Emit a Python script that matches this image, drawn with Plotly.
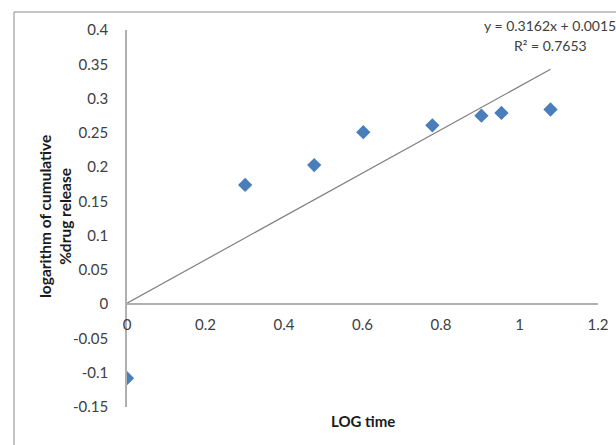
import plotly.graph_objects as go

log_time = [0.0, 0.301, 0.477, 0.602, 0.778, 0.903, 0.954, 1.079]
log_release = [-0.108, 0.174, 0.203, 0.251, 0.261, 0.275, 0.279, 0.284]
slope = 0.3162
intercept = 0.0015
r2 = 0.7653
x_ticks = [0, 0.2, 0.4, 0.6, 0.8, 1, 1.2]
x_tick_labels = ["0", "0.2", "0.4", "0.6", "0.8", "1", "1.2"]
y_ticks = [-0.15, -0.1, -0.05, 0, 0.05, 0.1, 0.15, 0.2, 0.25, 0.3, 0.35, 0.4]
y_tick_labels = ["-0.15", "-0.1", "-0.05", "0", "0.05", "0.1", "0.15", "0.2", "0.25", "0.3", "0.35", "0.4"]

x_range = [0, 1.2]
y_range = [-0.15, 0.4]

W, H = 616, 445
L, R, T, B = 127, 18, 30, 38
pw, ph = W - L - R, H - T - B

def px_to_paper_x(px):
    return (px - L) / pw

def px_to_paper_y(py):
    return (H - B - py) / ph

FONT = "Lato, 'Open Sans', sans-serif"

trend_x = [log_time[0], log_time[-1]]
trend_y = [slope * v + intercept for v in trend_x]

fig = go.Figure()
fig.add_trace(go.Scatter(
    x=trend_x, y=trend_y, mode="lines",
    line=dict(color="#7f7f7f", width=1.2), showlegend=False, hoverinfo="skip",
))
fig.add_trace(go.Scatter(
    x=log_time, y=log_release, mode="markers",
    marker=dict(symbol="diamond", size=11, color="#4a7ebb"),
    showlegend=False,
))

zero_pos = (0 - y_range[0]) / (y_range[1] - y_range[0])

fig.update_layout(
    width=W, height=H,
    margin=dict(l=L, r=R, t=T, b=B, autoexpand=False),
    paper_bgcolor="white", plot_bgcolor="white",
    font=dict(family=FONT, size=15, color="#404040"),
    xaxis=dict(
        range=x_range, tickvals=x_ticks, ticktext=x_tick_labels,
        showgrid=False, zeroline=False, showline=True, linecolor="#b0b0b0", linewidth=1.5,
        anchor="free", position=zero_pos, ticks="", ticklabelstandoff=7,
        tickfont=dict(family=FONT, size=15, color="#404040"),
    ),
    yaxis=dict(
        range=y_range, tickvals=y_ticks, ticktext=y_tick_labels,
        showgrid=False, zeroline=False, showline=True, linecolor="#b0b0b0", linewidth=1.5,
        ticks="", ticklabelstandoff=14,
        tickfont=dict(family=FONT, size=15, color="#404040"),
    ),
    shapes=[
        dict(type="rect", xref="paper", yref="paper",
             x0=px_to_paper_x(14), x1=px_to_paper_x(700),
             y0=px_to_paper_y(500), y1=px_to_paper_y(12),
             line=dict(color="#8c8c8c", width=1), fillcolor="rgba(0,0,0,0)", layer="below"),
    ],
    annotations=[
        dict(text="<b>logarithm of cumulative</b><br><b>%drug release</b>", textangle=-90,
             xref="paper", yref="paper", x=px_to_paper_x(55), y=px_to_paper_y(217),
             xanchor="center", yanchor="middle", showarrow=False,
             font=dict(family=FONT, size=15.5, color="#1a1a1a")),
        dict(text="<b>LOG time</b>", xref="paper", yref="paper",
             x=0.5, y=px_to_paper_y(421), xanchor="center", yanchor="middle", showarrow=False,
             font=dict(family=FONT, size=15, color="#1a1a1a")),
        dict(text=f"y = {slope}x + {intercept}", xref="paper", yref="paper",
             x=px_to_paper_x(550), y=px_to_paper_y(25), xanchor="center", yanchor="middle",
             showarrow=False, font=dict(family=FONT, size=14, color="#404040")),
        dict(text=f"R² = {r2}", xref="paper", yref="paper",
             x=px_to_paper_x(550), y=px_to_paper_y(45), xanchor="center", yanchor="middle",
             showarrow=False, font=dict(family=FONT, size=14, color="#404040")),
    ],
)

fig.write_html("out.html")
